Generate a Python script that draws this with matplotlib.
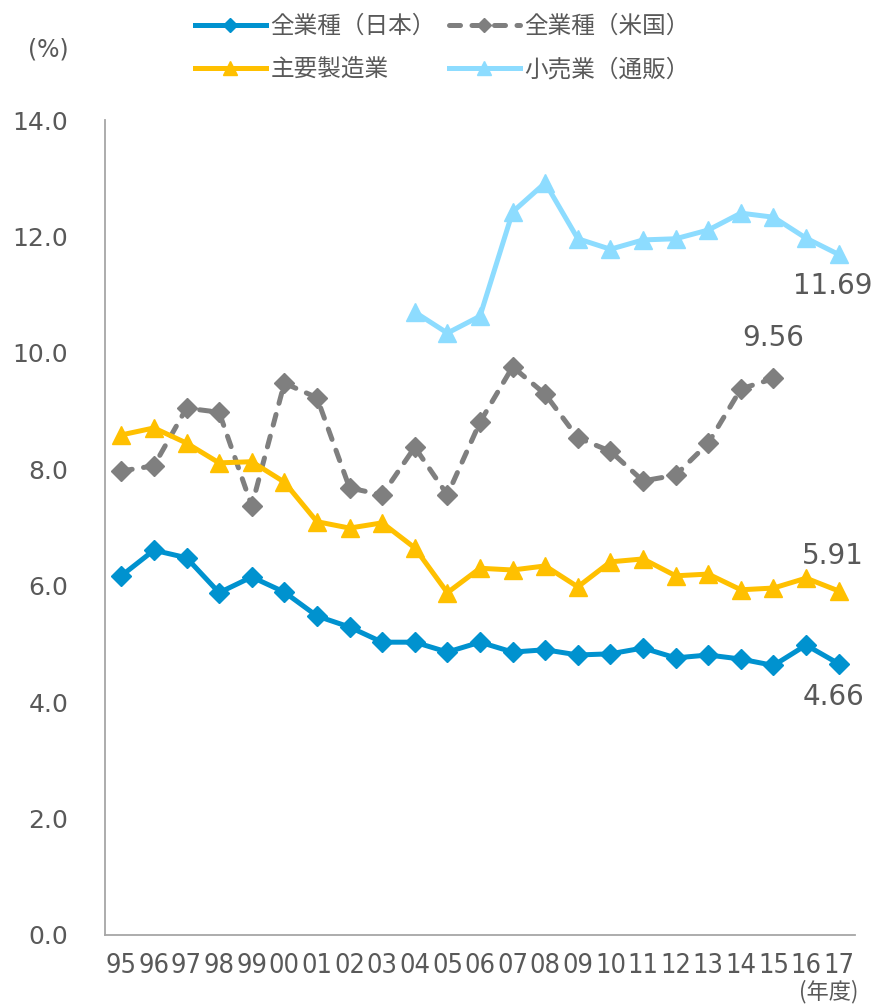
import matplotlib
matplotlib.use("Agg")
import matplotlib.pyplot as plt
import numpy as np

years = ["95", "96", "97", "98", "99", "00", "01", "02", "03", "04", "05", "06",
         "07", "08", "09", "10", "11", "12", "13", "14", "15", "16", "17"]

japan_all = [6.17, 6.61, 6.48, 5.88, 6.15, 5.89, 5.48, 5.29, 5.03, 5.03, 4.86, 5.03,
             4.86, 4.90, 4.81, 4.83, 4.93, 4.76, 4.81, 4.74, 4.63, 4.98, 4.66]
us_all = [7.97, 8.06, 9.05, 8.98, 7.37, 9.48, 9.23, 7.68, 7.56, 8.38, 7.56, 8.81,
          9.76, 9.29, 8.54, 8.31, 7.80, 7.90, 8.45, 9.38, 9.56]
manufacturing = [8.59, 8.71, 8.45, 8.11, 8.13, 7.78, 7.10, 6.99, 7.08, 6.65, 5.88, 6.30,
                 6.27, 6.34, 5.98, 6.41, 6.46, 6.17, 6.20, 5.93, 5.96, 6.13, 5.91]
retail_years = ["04", "05", "06", "07", "08", "09", "10", "11", "12", "13", "14", "15", "16", "17"]
retail_mail = [10.70, 10.34, 10.63, 12.42, 12.92, 11.96, 11.78, 11.94, 11.96, 12.11,
               12.40, 12.33, 11.97, 11.69]

series_names = ["全業種（日本）", "全業種（米国）", "主要製造業", "小売業（通販）"]

C_JP = "#0092CF"
C_US = "#7F7F7F"
C_MF = "#FFC000"
C_RT = "#8DDCFF"
TXT = "#595959"
CJK = ["Noto Sans CJK JP", "DejaVu Sans"]

plt.rcParams["font.family"] = ["DejaVu Sans", "Noto Sans CJK JP"]

fig = plt.figure(figsize=(8.76, 10.06), dpi=100)
ax = fig.add_axes([105 / 876, 1 - 935 / 1006, 750 / 876, 815 / 1006])

x = np.arange(len(years))
xr = np.array([years.index(y) for y in retail_years])
xu = x[:len(us_all)]

lw = 3.6
h_jp, = ax.plot(x, japan_all, color=C_JP, lw=lw, marker="D", ms=10,
                label=series_names[0], zorder=4)
h_us, = ax.plot(xu, us_all, color=C_US, lw=lw, marker="D", ms=10,
                dashes=(2.2, 2.3), dash_capstyle="round",
                label=series_names[1], zorder=3)
h_mf, = ax.plot(x, manufacturing, color=C_MF, lw=lw, marker="^", ms=13,
                label=series_names[2], zorder=3)
h_rt, = ax.plot(xr, retail_mail, color=C_RT, lw=lw, marker="^", ms=13,
                label=series_names[3], zorder=3)

ax.set_xlim(-0.5, len(years) - 0.5)
ax.set_ylim(0, 14)
yt = np.arange(0, 14.1, 2.0)
ax.set_yticks(yt)
ax.set_yticklabels([f"{v:.1f}" for v in yt])
ax.set_xticks(x)
ax.set_xticklabels(years, fontstretch="condensed")

for s in ["top", "right"]:
    ax.spines[s].set_visible(False)
for s in ["left", "bottom"]:
    ax.spines[s].set_color("#A6A6A6")
    ax.spines[s].set_linewidth(1.3)

ax.tick_params(axis="y", length=0, pad=26.5, labelsize=18, labelcolor=TXT)
ax.tick_params(axis="x", length=0, pad=13, labelsize=19.5, labelcolor=TXT)

# value labels on the latest points
lab_kw = dict(textcoords="offset points", ha="center", va="center",
              fontsize=20, color=TXT)
ax.annotate(f"{retail_mail[-1]:.2f}", (xr[-1], retail_mail[-1]), xytext=(-4, -23), **lab_kw)
ax.annotate(f"{us_all[-1]:.2f}", (xu[-1], us_all[-1]), xytext=(0, 29), **lab_kw)
ax.annotate(f"{manufacturing[-1]:.2f}", (x[-1], manufacturing[-1]), xytext=(-4, 25), **lab_kw)
ax.annotate(f"{japan_all[-1]:.2f}", (x[-1], japan_all[-1]), xytext=(-4, -24), **lab_kw)

fig.text(48 / 876, 1 - 50 / 1006, "(%)", fontsize=17, color=TXT,
         ha="center", va="center")
fig.text(858 / 876, 1 - 1003 / 1006, "(年度)", fontsize=16, color=TXT,
         ha="right", va="bottom", family=CJK)

leg = fig.legend(handles=[h_jp, h_mf, h_us, h_rt], ncol=2,
                 loc="upper left", bbox_to_anchor=(195 / 876, 1 - 15 / 1006),
                 frameon=False, borderpad=0, borderaxespad=0,
                 handlelength=3.0, handletextpad=0.2, columnspacing=0.55,
                 labelspacing=0.85, markerscale=0.75,
                 prop={"family": CJK, "size": 17})
for t in leg.get_texts():
    t.set_color(TXT)

fig.savefig("out.png", dpi=100)
